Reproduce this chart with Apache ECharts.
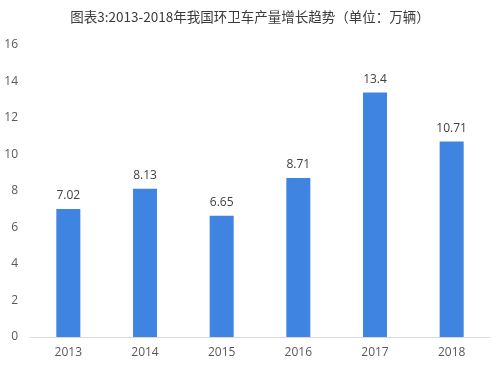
<!DOCTYPE html>
<html><head><meta charset="utf-8">
<script src="https://cdn.jsdelivr.net/npm/echarts@6/dist/echarts.min.js"></script>
<style>html,body{margin:0;padding:0;background:#fff}#c{width:500px;height:367px}</style>
</head><body><div id="c"></div>
<script>
const categories = ['2013','2014','2015','2016','2017','2018'];
const values = [7.02, 8.13, 6.65, 8.71, 13.4, 10.71];
const labels = ['7.02','8.13','6.65','8.71','13.4','10.71'];
const titleText = '图表3:2013-2018年我国环卫车产量增长趋势（单位：万辆）';
const chart = echarts.init(document.getElementById('c'));
chart.setOption({
  animation:false,
  title:{text:titleText,left:'center',top:5,textStyle:{fontSize:13.5,fontWeight:'normal',color:'#3a3a3a',fontFamily:'Noto Sans CJK SC'}},
  grid:{left:30,right:10,top:45,bottom:30},
  xAxis:{type:'category',data:categories,axisLine:{lineStyle:{color:'#d9d9d9',width:1}},axisTick:{show:false},
    axisLabel:{color:'#595959',fontSize:12,margin:10,fontFamily:'Open Sans'}},
  yAxis:{type:'value',min:0,max:16,interval:2,axisLine:{show:false},axisTick:{show:false},splitLine:{show:false},
    axisLabel:{color:'#595959',fontSize:12,margin:12,fontFamily:'Open Sans'}},
  series:[{type:'bar',data:values,barWidth:24,itemStyle:{color:'#3E84E0'},
    label:{show:true,position:'top',distance:7,color:'#404040',fontSize:12,fontFamily:'Open Sans',
      formatter:p=>labels[p.dataIndex]}}]
});
</script></body></html>
